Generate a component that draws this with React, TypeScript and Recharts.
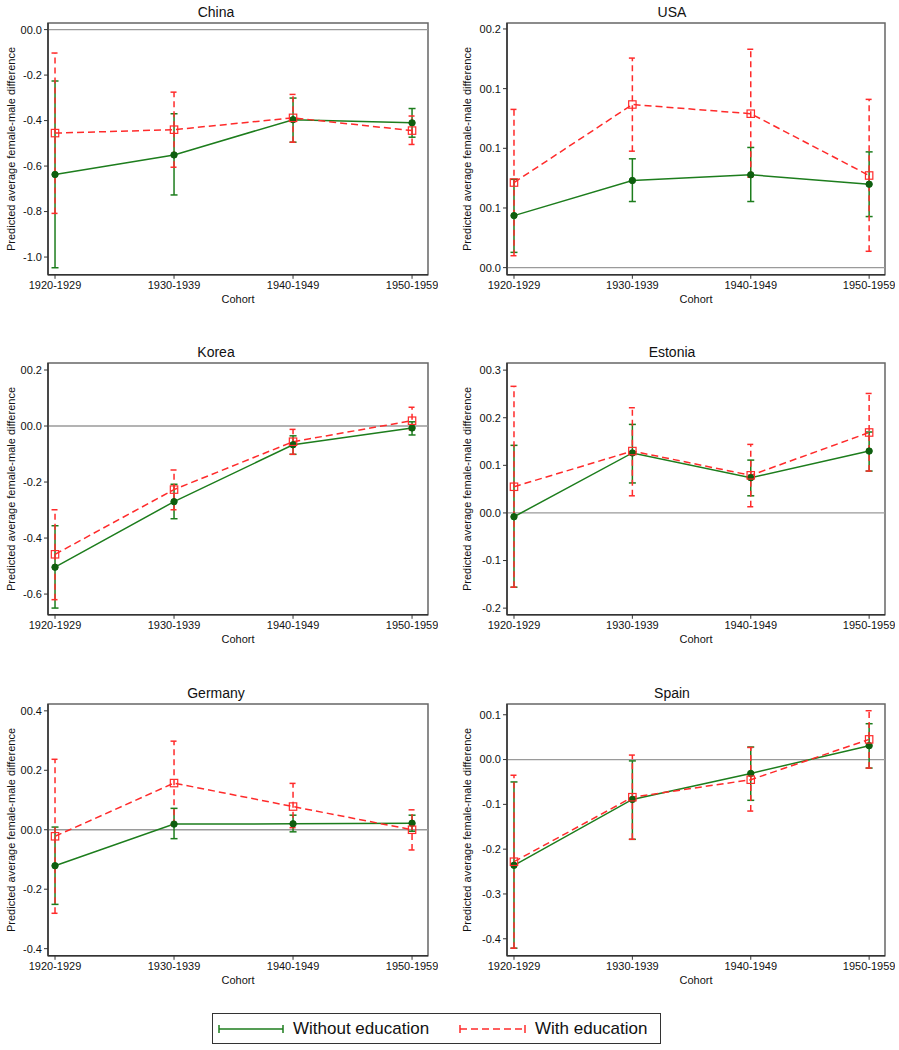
import React from "react";
import {
  LineChart,
  Line,
  XAxis,
  YAxis,
  ErrorBar,
  ReferenceLine,
  ReferenceArea,
} from "recharts";

const cohorts = ["1920-1929", "1930-1939", "1940-1949", "1950-1959"];
const cohortIdx = [0, 1, 2, 3];

// China
const chinaNoEdu = [-0.637, -0.551, -0.396, -0.41];
const chinaNoEduLo = [-1.047, -0.727, -0.495, -0.473];
const chinaNoEduHi = [-0.226, -0.37, -0.301, -0.347];
const chinaEdu = [-0.455, -0.44, -0.388, -0.444];
const chinaEduLo = [-0.808, -0.605, -0.495, -0.505];
const chinaEduHi = [-0.103, -0.275, -0.285, -0.38];
const chinaTicks = [0, -0.2, -0.4, -0.6, -0.8, -1.0];
const chinaTickLabels = ["00.0", "-0.2", "-0.4", "-0.6", "-0.8", "-1.0"];

// USA
const usaNoEdu = [0.0436, 0.073, 0.0778, 0.0699];
const usaNoEduLo = [0.0128, 0.0554, 0.0554, 0.0428];
const usaNoEduHi = [0.074, 0.0912, 0.1007, 0.097];
const usaEdu = [0.0713, 0.1367, 0.129, 0.0772];
const usaEduLo = [0.01, 0.0976, 0.0758, 0.0137];
const usaEduHi = [0.1326, 0.1756, 0.183, 0.141];
const usaTicks = [0, 0.05, 0.1, 0.15, 0.2];
const usaTickLabels = ["00.0", "00.1", "00.1", "00.1", "00.2"];

// Korea
const koreaNoEdu = [-0.504, -0.27, -0.067, -0.007];
const koreaNoEduLo = [-0.65, -0.331, -0.101, -0.032];
const koreaNoEduHi = [-0.356, -0.208, -0.035, 0.015];
const koreaEdu = [-0.458, -0.227, -0.056, 0.019];
const koreaEduLo = [-0.62, -0.299, -0.101, -0.013];
const koreaEduHi = [-0.299, -0.157, -0.012, 0.067];
const koreaTicks = [0.2, 0, -0.2, -0.4, -0.6];
const koreaTickLabels = ["00.2", "00.0", "-0.2", "-0.4", "-0.6"];

// Estonia
const estoniaNoEdu = [-0.008, 0.126, 0.074, 0.13];
const estoniaNoEduLo = [-0.156, 0.063, 0.036, 0.088];
const estoniaNoEduHi = [0.142, 0.186, 0.111, 0.17];
const estoniaEdu = [0.055, 0.13, 0.079, 0.169];
const estoniaEduLo = [-0.156, 0.036, 0.013, 0.088];
const estoniaEduHi = [0.266, 0.221, 0.144, 0.251];
const estoniaTicks = [0.3, 0.2, 0.1, 0, -0.1, -0.2];
const estoniaTickLabels = ["00.3", "00.2", "00.1", "00.0", "-0.1", "-0.2"];

// Germany
const germanyNoEdu = [-0.121, 0.019, 0.02, 0.022];
const germanyNoEduLo = [-0.251, -0.03, -0.007, -0.005];
const germanyNoEduHi = [0.009, 0.072, 0.049, 0.049];
const germanyEdu = [-0.022, 0.157, 0.078, 0.0];
const germanyEduLo = [-0.281, 0.015, 0.007, -0.068];
const germanyEduHi = [0.237, 0.298, 0.156, 0.067];
const germanyTicks = [0.4, 0.2, 0, -0.2, -0.4];
const germanyTickLabels = ["00.4", "00.2", "00.0", "-0.2", "-0.4"];

// Spain
const spainNoEdu = [-0.236, -0.089, -0.031, 0.031];
const spainNoEduLo = [-0.421, -0.178, -0.091, -0.019];
const spainNoEduHi = [-0.05, -0.003, 0.028, 0.08];
const spainEdu = [-0.228, -0.084, -0.045, 0.045];
const spainEduLo = [-0.421, -0.178, -0.115, -0.019];
const spainEduHi = [-0.035, 0.01, 0.027, 0.109];
const spainTicks = [0.1, 0, -0.1, -0.2, -0.3, -0.4];
const spainTickLabels = ["00.1", "00.0", "-0.1", "-0.2", "-0.3", "-0.4"];

const GREEN = "#1d7d1d";
const GREEN_DOT = "#0f5f0f";
const RED = "#ff2b2b";
const FONT = "'Liberation Sans', Arial, Helvetica, sans-serif";
const Y_TITLE = "Predicted average female-male difference";

const xDomain: [number, number] = [-0.059, 3.134];
const rowTops = [22.7, 363.3, 704.3];
const PLOT_H = 251.8;

type Panel = {
  name: string;
  row: number;
  col: number;
  domain: [number, number];
  ticks: number[];
  tickLabels: string[];
  noEdu: number[];
  noEduLo: number[];
  noEduHi: number[];
  edu: number[];
  eduLo: number[];
  eduHi: number[];
};

const panels: Panel[] = [
  { name: "China", row: 0, col: 0, domain: [-1.078, 0.029], ticks: chinaTicks, tickLabels: chinaTickLabels,
    noEdu: chinaNoEdu, noEduLo: chinaNoEduLo, noEduHi: chinaNoEduHi, edu: chinaEdu, eduLo: chinaEduLo, eduHi: chinaEduHi },
  { name: "USA", row: 0, col: 1, domain: [-0.006, 0.205], ticks: usaTicks, tickLabels: usaTickLabels,
    noEdu: usaNoEdu, noEduLo: usaNoEduLo, noEduHi: usaNoEduHi, edu: usaEdu, eduLo: usaEduLo, eduHi: usaEduHi },
  { name: "Korea", row: 1, col: 0, domain: [-0.674, 0.225], ticks: koreaTicks, tickLabels: koreaTickLabels,
    noEdu: koreaNoEdu, noEduLo: koreaNoEduLo, noEduHi: koreaNoEduHi, edu: koreaEdu, eduLo: koreaEduLo, eduHi: koreaEduHi },
  { name: "Estonia", row: 1, col: 1, domain: [-0.214, 0.315], ticks: estoniaTicks, tickLabels: estoniaTickLabels,
    noEdu: estoniaNoEdu, noEduLo: estoniaNoEduLo, noEduHi: estoniaNoEduHi, edu: estoniaEdu, eduLo: estoniaEduLo, eduHi: estoniaEduHi },
  { name: "Germany", row: 2, col: 0, domain: [-0.424, 0.423], ticks: germanyTicks, tickLabels: germanyTickLabels,
    noEdu: germanyNoEdu, noEduLo: germanyNoEduLo, noEduHi: germanyNoEduHi, edu: germanyEdu, eduLo: germanyEduLo, eduHi: germanyEduHi },
  { name: "Spain", row: 2, col: 1, domain: [-0.438, 0.124], ticks: spainTicks, tickLabels: spainTickLabels,
    noEdu: spainNoEdu, noEduLo: spainNoEduLo, noEduHi: spainNoEduHi, edu: spainEdu, eduLo: spainEduLo, eduHi: spainEduHi },
];

function buildRows(p: Panel) {
  return cohortIdx.map((i) => ({
    x: i,
    noEdu: p.noEdu[i],
    noEduErr: [p.noEdu[i] - p.noEduLo[i], p.noEduHi[i] - p.noEdu[i]],
    edu: p.edu[i],
    eduErr: [p.edu[i] - p.eduLo[i], p.eduHi[i] - p.edu[i]],
  }));
}

const greenDot = (props: any) => (
  <circle key={`g${props.index}`} cx={props.cx} cy={props.cy} r={3.2} fill={GREEN_DOT} stroke={GREEN_DOT} />
);

const redSquare = (props: any) => (
  <rect
    key={`r${props.index}`}
    x={props.cx - 3.7}
    y={props.cy - 3.7}
    width={7.4}
    height={7.4}
    fill="none"
    stroke={RED}
    strokeWidth={1.2}
  />
);

function PanelChart({ p }: { p: Panel }) {
  const left = p.col === 0 ? 0 : 449;
  const axisW = p.col === 0 ? 48 : 58;
  const plotW = p.col === 0 ? 380 : 378;
  const top = rowTops[p.row];
  const rows = buildRows(p);
  const labelFor = (v: number) => {
    const k = p.ticks.findIndex((t) => Math.abs(t - v) < 1e-9);
    return k >= 0 ? p.tickLabels[k] : String(v);
  };
  return (
    <>
      <div
        style={{
          position: "absolute",
          left,
          top: top - 19,
          width: p.col === 0 ? 432 : 446,
          textAlign: "center",
          fontSize: 14,
          lineHeight: "17px",
        }}
      >
        {p.name}
      </div>
      <div
        style={{
          position: "absolute",
          left: left + (p.col === 0 ? 11 : 18) - 150,
          top: top + PLOT_H / 2 - 7,
          width: 300,
          height: 14,
          lineHeight: "14px",
          textAlign: "center",
          fontSize: 11,
          transform: "rotate(-90deg)",
        }}
      >
        {Y_TITLE}
      </div>
      <div style={{ position: "absolute", left, top: top - 10 }}>
        <LineChart
          width={axisW + plotW + 10}
          height={10 + PLOT_H + 30 + 8}
          data={rows}
          margin={{ top: 10, right: 10, bottom: 8, left: 0 }}
        >
          <ReferenceArea
            x1={xDomain[0]}
            x2={xDomain[1]}
            y1={p.domain[0]}
            y2={p.domain[1]}
            fill="none"
            stroke="#666"
            strokeWidth={1.5}
            ifOverflow="visible"
          />
          <ReferenceLine y={0} stroke="#9a9a9a" strokeWidth={1.3} />
          <XAxis
            dataKey="x"
            type="number"
            domain={xDomain}
            ticks={cohortIdx}
            interval={0}
            allowDataOverflow
            tickFormatter={(v: number) => cohorts[v]}
            tick={{ fontSize: 11, fill: "#111" }}
            tickSize={4}
            tickMargin={2}
            height={30}
            axisLine={{ stroke: "#333", strokeWidth: 1.5 }}
            tickLine={{ stroke: "#333" }}
            label={{ value: "Cohort", position: "insideBottom", offset: 2, fontSize: 11, fill: "#111" }}
          />
          <YAxis
            type="number"
            domain={p.domain}
            ticks={p.ticks}
            interval={0}
            allowDataOverflow
            tickFormatter={labelFor}
            tick={{ fontSize: 11, fill: "#111" }}
            tickSize={4}
            tickMargin={2}
            width={axisW}
            axisLine={{ stroke: "#333", strokeWidth: 1.5 }}
            tickLine={{ stroke: "#333" }}
          />
          <Line
            dataKey="noEdu"
            stroke={GREEN}
            strokeWidth={1.5}
            dot={greenDot}
            activeDot={false}
            isAnimationActive={false}
          >
            <ErrorBar
              dataKey="noEduErr"
              direction="y"
              width={3.5}
              stroke={GREEN}
              strokeWidth={1.5}
              isAnimationActive={false}
            />
          </Line>
          <Line
            dataKey="edu"
            stroke={RED}
            strokeWidth={1.5}
            strokeDasharray="7 4"
            dot={redSquare}
            activeDot={false}
            isAnimationActive={false}
          >
            <ErrorBar
              dataKey="eduErr"
              direction="y"
              width={3.5}
              stroke={RED}
              strokeWidth={1.5}
              strokeDasharray="6 4"
              isAnimationActive={false}
            />
          </Line>
        </LineChart>
      </div>
    </>
  );
}

function Legend() {
  return (
    <div
      style={{
        position: "absolute",
        left: 212,
        top: 1013,
        width: 449,
        height: 31,
        boxSizing: "border-box",
        border: "1.2px solid #333",
        fontSize: 17,
      }}
    >
      <svg width={449} height={31} style={{ position: "absolute", left: -1, top: -1 }}>
        <line x1={7} y1={16} x2={71} y2={16} stroke={GREEN} strokeWidth={1.5} />
        <line x1={7} y1={12} x2={7} y2={20} stroke={GREEN} strokeWidth={1.5} />
        <line x1={71} y1={12} x2={71} y2={20} stroke={GREEN} strokeWidth={1.5} />
        <line x1={248} y1={16} x2={313} y2={16} stroke={RED} strokeWidth={1.5} strokeDasharray="7 4" />
        <line x1={248} y1={12} x2={248} y2={20} stroke={RED} strokeWidth={1.5} />
        <line x1={313} y1={12} x2={313} y2={20} stroke={RED} strokeWidth={1.5} />
      </svg>
      <span style={{ position: "absolute", left: 80, top: 5, lineHeight: "20px" }}>Without education</span>
      <span style={{ position: "absolute", left: 322, top: 5, lineHeight: "20px" }}>With education</span>
    </div>
  );
}

export default function App() {
  return (
    <div
      style={{
        position: "absolute",
        left: 0,
        top: 0,
        width: 899,
        height: 1050,
        background: "#fff",
        fontFamily: FONT,
        color: "#111",
        overflow: "hidden",
      }}
    >
      {panels.map((p) => (
        <PanelChart key={p.name} p={p} />
      ))}
      <Legend />
    </div>
  );
}
